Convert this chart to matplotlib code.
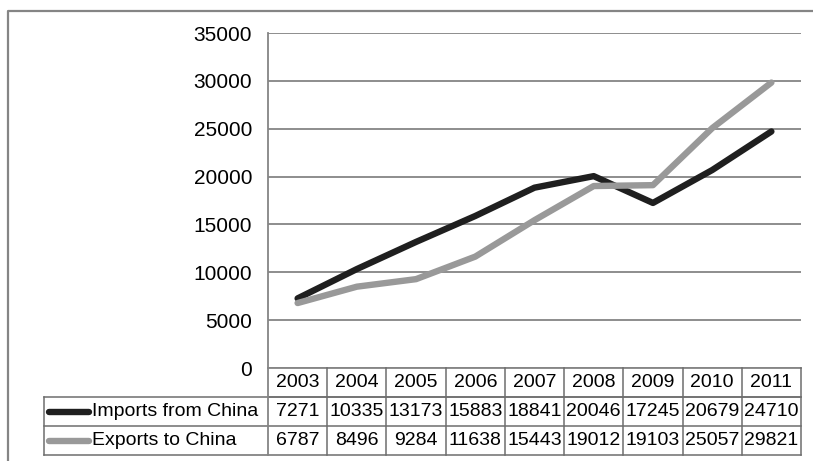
import matplotlib
matplotlib.use("Agg")
import matplotlib.pyplot as plt
from matplotlib.lines import Line2D
from matplotlib.transforms import blended_transform_factory

plt.rcParams["font.family"] = ["Liberation Sans", "DejaVu Sans"]

years = ["2003", "2004", "2005", "2006", "2007", "2008", "2009", "2010", "2011"]
imports = [7271, 10335, 13173, 15883, 18841, 20046, 17245, 20679, 24710]
exports = [6787, 8496, 9284, 11638, 15443, 19012, 19103, 25057, 29821]
series_names = ["Imports from China", "Exports to China"]

DARK = "#1f1f1f"
LIGHT = "#999999"
GRID = "#858585"
EDGE = "#6e6e6e"

W, H = 813, 461
fig = plt.figure(figsize=(W / 100, H / 100), dpi=100)


def fx(x):
    return x / W


def fy(y):
    return 1 - y / H


# plot area in pixel terms
left, right, top, bottom = 268, 801, 33, 368
ax = fig.add_axes([fx(left), fy(bottom), fx(right) - fx(left), fy(top) - fy(bottom)])

ax.plot(range(len(years)), imports, color=DARK, lw=4.6,
        solid_capstyle="round", solid_joinstyle="round", clip_on=False, zorder=3)
ax.plot(range(len(years)), exports, color=LIGHT, lw=4.6,
        solid_capstyle="round", solid_joinstyle="round", clip_on=False, zorder=3)

ax.set_xlim(-0.5, len(years) - 0.5)
ax.set_ylim(0, 35000)
ax.set_yticks(range(0, 35001, 5000))
ax.set_xticks([])
ax.tick_params(axis="y", length=0, pad=11.5, labelsize=15)
ax.grid(axis="y", color=GRID, lw=1.3)
ax.set_axisbelow(True)
for side in ["top", "right"]:
    ax.spines[side].set_visible(False)
for side in ["left", "bottom"]:
    ax.spines[side].set_color(GRID)
    ax.spines[side].set_linewidth(1.3)

# data table beneath the axis
row_h = 29
rows_top = [bottom, bottom + row_h, bottom + 2 * row_h]
table_bottom = bottom + 3 * row_h
tr = blended_transform_factory(ax.transData, fig.transFigure)
fs = 14

# horizontal rules
fig.add_artist(Line2D([fx(left), fx(right)], [fy(rows_top[1])] * 2, color=EDGE, lw=1.1))
for y in [rows_top[1], rows_top[2], table_bottom]:
    fig.add_artist(Line2D([fx(44), fx(right)], [fy(y)] * 2, color=EDGE, lw=1.1))
# vertical rules
for i in range(1, len(years) + 1):
    fig.add_artist(Line2D([i - 0.5, i - 0.5], [fy(bottom), fy(table_bottom)],
                          transform=tr, color=EDGE, lw=1.1))
fig.add_artist(Line2D([fx(left)] * 2, [fy(bottom), fy(table_bottom)], color=GRID, lw=1.3))
fig.add_artist(Line2D([fx(44)] * 2, [fy(rows_top[1]), fy(table_bottom)], color=EDGE, lw=1.1))

for i, yr in enumerate(years):
    fig.text(i, fy(rows_top[0] + row_h / 2), yr, transform=tr,
             ha="center", va="center", fontsize=fs)
for r, (name, vals, col) in enumerate(zip(series_names, [imports, exports], [DARK, LIGHT])):
    yc = fy(rows_top[r + 1] + row_h / 2)
    fig.add_artist(Line2D([fx(49), fx(89)], [yc, yc], color=col, lw=4.6,
                          solid_capstyle="round"))
    fig.text(fx(92), yc, name, ha="left", va="center", fontsize=fs)
    for i, v in enumerate(vals):
        fig.text(i, yc, str(v), transform=tr, ha="center", va="center", fontsize=fs)

# chart border
fig.add_artist(Line2D([fx(8), fx(8), fx(W)], [fy(H), fy(11), fy(11)], color=GRID, lw=1.6))

fig.savefig("out.png", dpi=100)
